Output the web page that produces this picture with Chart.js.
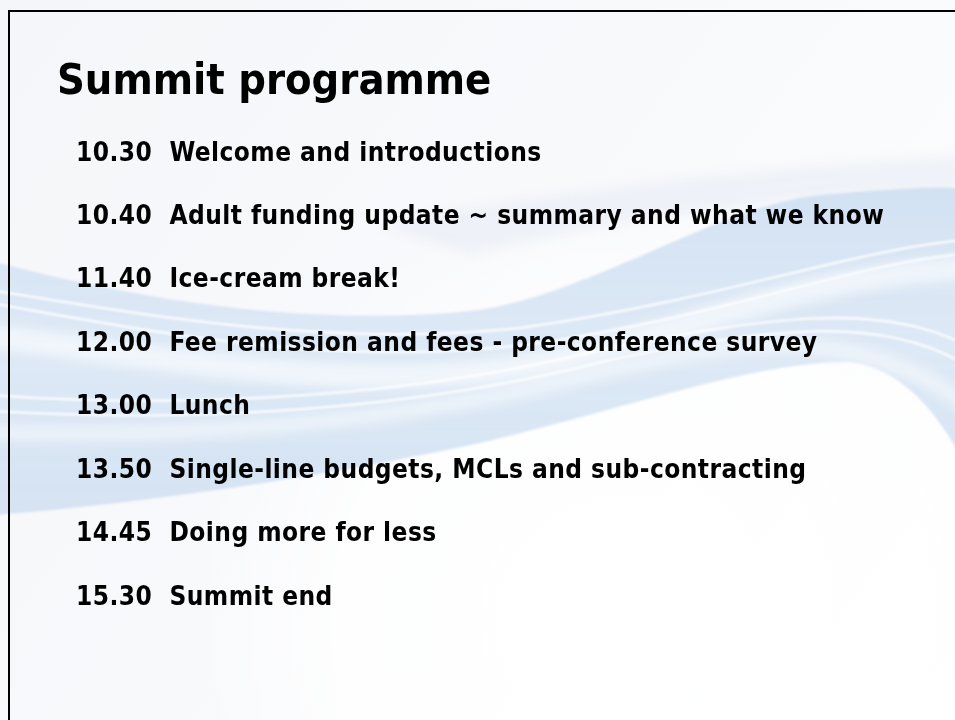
<!DOCTYPE html>
<html>
<head>
<meta charset="utf-8">
<title>Summit programme</title>
<script src="https://cdn.jsdelivr.net/npm/chart.js@4.4.1/dist/chart.umd.min.js"></script>
<style>
  html, body { margin: 0; padding: 0; background: #ffffff; }
  #wrap { position: relative; width: 955px; height: 720px; }
</style>
</head>
<body>
<div id="wrap"><canvas id="c" aria-label="Summit programme"></canvas></div>
<script>
// ---- content ----
const slideTitle = 'Summit programme';
const times = ['10.30', '10.40', '11.40', '12.00', '13.00', '13.50', '14.45', '15.30'];
const sessions = [
  'Welcome and introductions',
  'Adult funding update ~ summary and what we know',
  'Ice-cream break!',
  'Fee remission and fees - pre-conference survey',
  'Lunch',
  'Single-line budgets, MCLs and sub-contracting',
  'Doing more for less',
  'Summit end'
];
const rowLabels = times.map((t, i) => t + '  ' + sessions[i]);

const FAMILY = '"DejaVu Sans Condensed", "DejaVu Sans", sans-serif';

// decorative slide background (swooshes + frame)
const slideBackground = {
  id: 'slideBackground',
  beforeDraw(chart) {
    const ctx = chart.ctx;
    const W = chart.width, H = chart.height;
    ctx.save();
    // base
    const g = ctx.createLinearGradient(0, 0, W, H);
    g.addColorStop(0, '#f5f6f9');
    g.addColorStop(0.55, '#f9fafc');
    g.addColorStop(1, '#ffffff');
    ctx.fillStyle = g;
    ctx.fillRect(0, 0, W, H);

    // white glow lower centre
    const rg = ctx.createRadialGradient(620, 620, 30, 620, 620, 430);
    rg.addColorStop(0, 'rgba(255,255,255,1)');
    rg.addColorStop(0.65, 'rgba(255,255,255,0.7)');
    rg.addColorStop(1, 'rgba(255,255,255,0)');
    ctx.fillStyle = rg;
    ctx.fillRect(0, 0, W, H);

    // faint upper swoosh
    ctx.filter = 'blur(6px)';
    ctx.fillStyle = 'rgba(228,234,243,0.5)';
    ctx.beginPath();
    ctx.moveTo(380, 225);
    ctx.bezierCurveTo(550, 190, 750, 168, 975, 155);
    ctx.lineTo(975, 190);
    ctx.bezierCurveTo(760, 198, 600, 222, 470, 255);
    ctx.closePath();
    ctx.fill();
    ctx.filter = 'blur(1px)';

    // main blue band
    const bg = ctx.createLinearGradient(0, 180, 0, 520);
    bg.addColorStop(0, 'rgba(208,224,242,0.95)');
    bg.addColorStop(0.5, 'rgba(218,231,245,0.9)');
    bg.addColorStop(1, 'rgba(210,225,242,0.95)');
    ctx.fillStyle = bg;
    ctx.beginPath();
    ctx.moveTo(-5, 262);
    ctx.bezierCurveTo(120, 295, 300, 330, 480, 310);
    ctx.bezierCurveTo(600, 290, 720, 205, 820, 195);
    ctx.bezierCurveTo(880, 190, 930, 186, 960, 188);
    ctx.lineTo(960, 455);
    ctx.bezierCurveTo(935, 410, 900, 368, 850, 362);
    ctx.bezierCurveTo(760, 360, 620, 410, 480, 443);
    ctx.bezierCurveTo(300, 482, 120, 505, -5, 515);
    ctx.closePath();
    ctx.fill();

    // soft white streaks
    ctx.filter = 'blur(6px)';
    ctx.strokeStyle = 'rgba(255,255,255,0.6)';
    ctx.lineCap = 'round';
    ctx.lineWidth = 24;
    ctx.beginPath();
    ctx.moveTo(-20, 335);
    ctx.bezierCurveTo(200, 362, 380, 398, 560, 360);
    ctx.bezierCurveTo(700, 325, 820, 272, 975, 268);
    ctx.stroke();
    ctx.lineWidth = 16;
    ctx.strokeStyle = 'rgba(255,255,255,0.5)';
    ctx.beginPath();
    ctx.moveTo(-20, 432);
    ctx.bezierCurveTo(200, 440, 420, 420, 600, 372);
    ctx.bezierCurveTo(760, 332, 880, 332, 975, 412);
    ctx.stroke();
    ctx.filter = 'blur(1.2px)';
    ctx.lineWidth = 2.5;
    ctx.strokeStyle = 'rgba(255,255,255,0.85)';
    const thin = [
      [[-10, 290], [150, 316], [330, 348], [520, 328], [720, 300], [850, 250], [965, 240]],
      [[-10, 303], [160, 333], [340, 370], [540, 343], [740, 312], [860, 262], [965, 254]],
      [[-10, 395], [200, 410], [420, 395], [600, 350], [760, 318], [880, 300], [965, 345]],
      [[-10, 411], [200, 424], [420, 409], [610, 360], [770, 327], [885, 315], [965, 365]]
    ];
    thin.forEach(p => {
      ctx.beginPath();
      ctx.moveTo(p[0][0], p[0][1]);
      ctx.bezierCurveTo(p[1][0], p[1][1], p[2][0], p[2][1], p[3][0], p[3][1]);
      ctx.bezierCurveTo(p[4][0], p[4][1], p[5][0], p[5][1], p[6][0], p[6][1]);
      ctx.stroke();
    });
    ctx.filter = 'none';

    // frame
    ctx.fillStyle = '#000';
    ctx.fillRect(8, 10, W - 8, 2);
    ctx.fillRect(8, 10, 2, H - 10);
    ctx.restore();
  }
};

// draws each programme row at the y position of its category on the y scale
const rowText = {
  id: 'rowText',
  afterDraw(chart, args, opts) {
    const ctx = chart.ctx;
    const y = chart.scales.y;
    ctx.save();
    ctx.font = 'bold ' + opts.size + 'px ' + FAMILY;
    if ('letterSpacing' in ctx) ctx.letterSpacing = opts.spacing;
    ctx.fillStyle = opts.color;
    ctx.textAlign = 'left';
    ctx.textBaseline = 'middle';
    chart.data.labels.forEach((lab, i) => {
      ctx.fillText(lab, opts.x, y.getPixelForValue(i));
    });
    ctx.restore();
  }
};

new Chart(document.getElementById('c'), {
  type: 'bar',
  data: {
    labels: rowLabels,
    datasets: [{ label: 'Programme', data: [] }]
  },
  options: {
    indexAxis: 'y',
    responsive: true,
    maintainAspectRatio: false,
    animation: false,
    devicePixelRatio: 1,
    events: [],
    layout: { padding: { left: 57, right: 0, top: 0, bottom: 90.5 } },
    plugins: {
      legend: { display: false },
      tooltip: { enabled: false },
      title: {
        display: true,
        text: slideTitle,
        align: 'start',
        color: '#000000',
        font: { family: FAMILY, size: 43, weight: 'bold', lineHeight: 1.2 },
        padding: { top: 57, bottom: 13.5 }
      },
      rowText: { x: 76, size: 26, color: '#000000', spacing: '0.45px' }
    },
    scales: {
      x: { display: false },
      y: {
        type: 'category',
        position: 'left',
        offset: true,
        grid: { display: false },
        border: { display: false },
        ticks: { display: false }
      }
    }
  },
  plugins: [slideBackground, rowText]
});
</script>
</body>
</html>
